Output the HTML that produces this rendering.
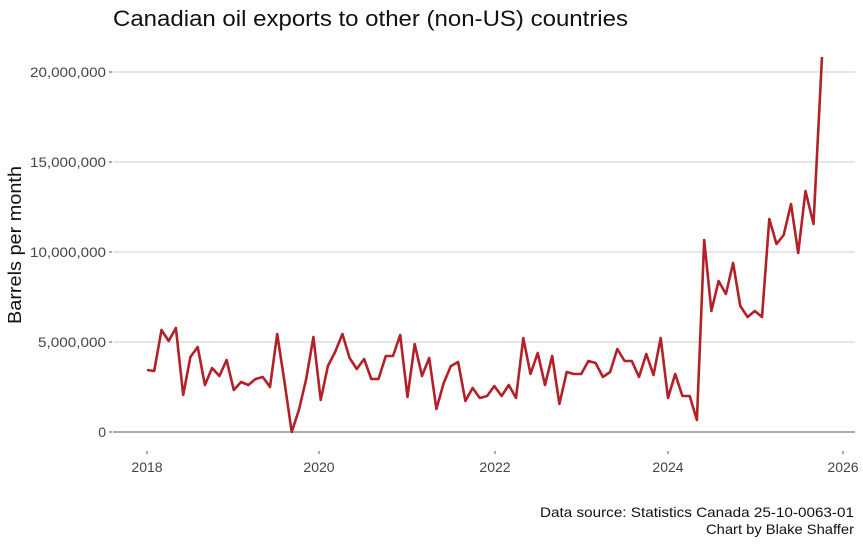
<!DOCTYPE html>
<html><head><meta charset="utf-8"><style>
html,body{margin:0;padding:0;background:#fff;}
svg{display:block;font-family:"Liberation Sans",sans-serif;}
</style></head><body>
<svg width="863" height="545" viewBox="0 0 863 545">
<rect width="863" height="545" fill="#fff"/>
<text x="113" y="26" font-size="22" fill="#111" textLength="515" lengthAdjust="spacingAndGlyphs">Canadian oil exports to other (non-US) countries</text>
<g stroke="#d6d6d6" stroke-width="1.2">
<line x1="113" y1="72" x2="855" y2="72"/>
<line x1="113" y1="162" x2="855" y2="162"/>
<line x1="113" y1="252" x2="855" y2="252"/>
<line x1="113" y1="342" x2="855" y2="342"/>
</g>
<line x1="113" y1="432" x2="855" y2="432" stroke="#777" stroke-width="1.3"/>
<g stroke="#555" stroke-width="1">
<line x1="109" y1="72" x2="112" y2="72"/><line x1="109" y1="162" x2="112" y2="162"/>
<line x1="109" y1="252" x2="112" y2="252"/><line x1="109" y1="342" x2="112" y2="342"/>
<line x1="109" y1="432" x2="112" y2="432"/>
<line x1="147" y1="451" x2="147" y2="454"/><line x1="319" y1="451" x2="319" y2="454"/>
<line x1="495" y1="451" x2="495" y2="454"/><line x1="668" y1="451" x2="668" y2="454"/>
<line x1="843" y1="451" x2="843" y2="454"/>
</g>
<g font-size="14" fill="#444" text-anchor="end">
<text x="106" y="77" textLength="76" lengthAdjust="spacingAndGlyphs">20,000,000</text>
<text x="106" y="167" textLength="76" lengthAdjust="spacingAndGlyphs">15,000,000</text>
<text x="106" y="257" textLength="76" lengthAdjust="spacingAndGlyphs">10,000,000</text>
<text x="106" y="347" textLength="68" lengthAdjust="spacingAndGlyphs">5,000,000</text>
<text x="106" y="437">0</text>
</g>
<g font-size="14" fill="#444" text-anchor="middle">
<text x="147" y="472">2018</text><text x="319" y="472">2020</text>
<text x="495" y="472">2022</text><text x="668" y="472">2024</text>
<text x="843" y="472">2026</text>
</g>
<text transform="translate(21,245) rotate(-90)" font-size="18" fill="#111" text-anchor="middle" textLength="158" lengthAdjust="spacingAndGlyphs">Barrels per month</text>
<g font-size="14" fill="#111" text-anchor="end">
<text x="854" y="517" textLength="314" lengthAdjust="spacingAndGlyphs">Data source: Statistics Canada 25-10-0063-01</text>
<text x="854" y="534" textLength="148" lengthAdjust="spacingAndGlyphs">Chart by Blake Shaffer</text>
</g>
<polyline fill="none" stroke="#b22028" stroke-width="2.6" stroke-linejoin="round" points="147,370 154.2,371 161.5,330 168.7,341 175.9,328 183.2,395 190.4,357 197.7,347 204.9,385 212.1,368 219.4,376 226.6,360 233.8,390 241.1,382 248.3,385 255.5,379 262.8,377 270,387 277.2,334 284.5,382 291.7,432 298.9,410 306.2,379 313.4,337 320.7,400 327.9,366 335.1,352 342.4,334 349.6,358 356.8,369 364.1,359 371.3,379 378.5,379 385.8,356 393,356 400.2,335 407.5,397 414.7,344 422,376 429.2,358 436.4,409 443.7,383 450.9,366 458.1,362 465.4,401 472.6,388 479.8,398 487.1,396 494.3,386 501.6,396 508.8,385 516,398 523.3,338 530.5,374 537.7,353 545,385 552.2,356 559.4,404 566.7,372 573.9,374 581.2,374 588.4,361 595.6,363 602.9,377 610.1,372 617.3,349 624.6,361 631.8,361 639,377 646.3,354 653.5,375 660.7,338 668,398 675.2,374 682.4,396 689.7,396 696.9,420 704.2,240 711.4,311 718.6,281 725.9,294 733.1,263 740.3,306 747.6,317 754.8,311 762,317 769.3,219 776.5,244 783.7,235 791,204 798.2,253 805.5,191 813.5,224 822,57"/>
</svg>
</body></html>
